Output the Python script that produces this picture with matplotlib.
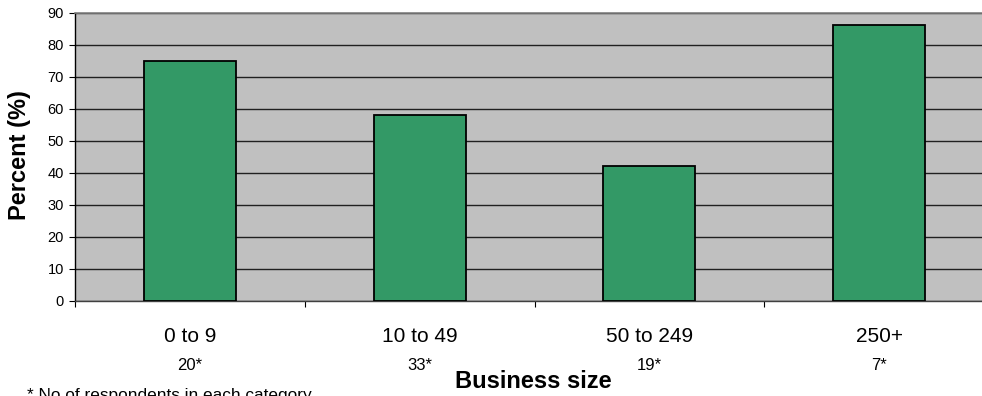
import matplotlib
matplotlib.use("Agg")
import matplotlib.pyplot as plt
import matplotlib.transforms as mtransforms

plt.rcParams['font.family'] = ['Liberation Sans', 'DejaVu Sans']

categories = ["0 to 9", "10 to 49", "50 to 249", "250+"]
percent = [75, 58, 42, 86]
respondents = [20, 33, 19, 7]
y_ticks = [0, 10, 20, 30, 40, 50, 60, 70, 80, 90]

fig = plt.figure(figsize=(9.82, 3.96), dpi=100)
# plot area runs past the right edge of the canvas
ax = fig.add_axes([75 / 982, 1 - 301 / 396, 919 / 982, (301 - 12.5) / 396])
ax.set_facecolor("#C0C0C0")

x = list(range(len(categories)))
ax.bar(x, percent, width=0.40, color="#339966", edgecolor="black",
       linewidth=1.3, zorder=3)

ax.set_xlim(-0.5, len(categories) - 0.5)
ax.set_ylim(0, 90)
ax.set_yticks(y_ticks)
ax.set_yticklabels([str(v) for v in y_ticks], fontsize=10.5)
ax.yaxis.grid(True, color="#202020", linewidth=1.0, zorder=1)
ax.set_axisbelow(True)

# category boundaries as ticks on the x-axis
ax.set_xticks([i - 0.5 for i in range(len(categories) + 1)])
ax.set_xticklabels([])
ax.tick_params(axis="x", direction="out", length=4.5, width=0.8, color="black")
ax.tick_params(axis="y", direction="out", length=4, width=0.8, color="black", pad=4)

ax.spines["right"].set_visible(False)
ax.spines["top"].set_color("#808080")
ax.spines["top"].set_linewidth(1.2)
ax.spines["left"].set_color("black")
ax.spines["left"].set_linewidth(1.0)
ax.spines["bottom"].set_color("#404040")
ax.spines["bottom"].set_linewidth(1.0)

trans = mtransforms.blended_transform_factory(ax.transData, fig.transFigure)
for xi, cat, n in zip(x, categories, respondents):
    ax.text(xi, 1 - 337 / 396, cat, transform=trans, ha="center", va="center",
            fontsize=15)
    ax.text(xi, 1 - 365 / 396, f"{n}*", transform=trans, ha="center", va="center",
            fontsize=12)

fig.text(533 / 982, 1 - 382 / 396, "Business size", ha="center", va="center",
         fontsize=17, fontweight="bold")
fig.text(20 / 982, 1 - 155 / 396, "Percent (%)", ha="center", va="center",
         rotation=90, fontsize=17, fontweight="bold")
fig.text(27 / 982, -4 / 396, "* No of respondents in each category",
         ha="left", va="baseline", fontsize=12.4)

fig.savefig("out.png", dpi=100)
